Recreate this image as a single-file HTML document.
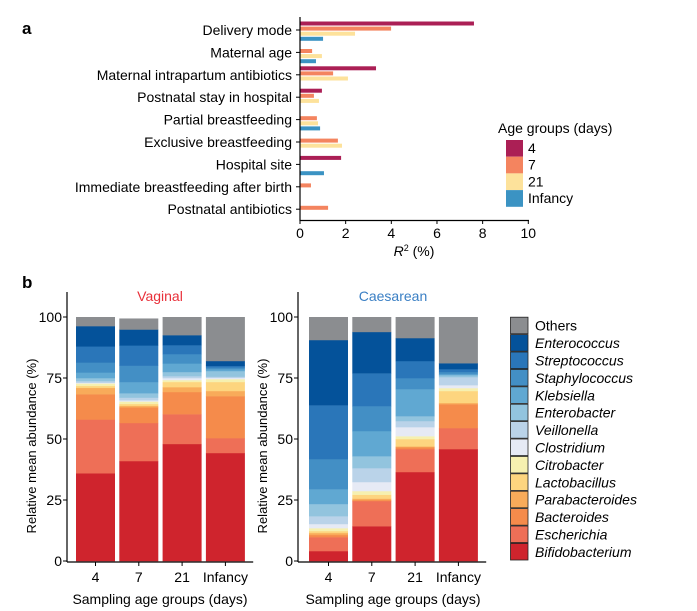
<!DOCTYPE html>
<html><head><meta charset="utf-8"><style>
html,body{margin:0;padding:0;background:#fff;}
svg{display:block;font-family:"Liberation Sans",Arial,sans-serif;}
</style></head><body>
<svg id="chart" width="697" height="611" viewBox="0 0 697 611" xmlns="http://www.w3.org/2000/svg">
<text x="22" y="34" font-size="17" font-weight="bold">a</text>
<text x="22" y="288" font-size="17" font-weight="bold">b</text>
<g id="pa"></g>
<g id="pb"></g>
</svg>
<script>
// ---- Panel a data ----
const factors = ["Delivery mode","Maternal age","Maternal intrapartum antibiotics","Postnatal stay in hospital","Partial breastfeeding","Exclusive breastfeeding","Hospital site","Immediate breastfeeding after birth","Postnatal antibiotics"];
const ageGroups = ["4","7","21","Infancy"];
const r2Day4 = [7.62,0,3.33,0.96,0,0,1.80,0,0];
const r2Day7 = [3.99,0.53,1.45,0.61,0.74,1.66,0,0.48,1.23];
const r2Day21 = [2.41,0.96,2.10,0.83,0.79,1.84,0,0,0];
const r2Infancy = [1.01,0.70,0,0,0.88,0,1.05,0,0];
const r2Ticks = [0,2,4,6,8,10];

// ---- Panel b data ----
const taxa = ["Bifidobacterium","Escherichia","Bacteroides","Parabacteroides","Lactobacillus","Citrobacter","Clostridium","Veillonella","Enterobacter","Klebsiella","Staphylococcus","Streptococcus","Enterococcus","Others"];
const sampleGroups = ["4","7","21","Infancy"];
const vag4 = [36,22,10.4,2.6,0.8,1,0.3,0.7,1.2,2.3,4.1,6.6,8.3,3.7];
const vag7 = [41,15.6,6.4,0.6,0.8,1,0.5,1.1,1.8,4.6,6.7,8.3,6.5,4.5];
const vag21 = [48,12.2,9.1,2,2.1,0.8,0.8,0.8,1.7,3.5,3.8,3.7,4.1,7.4];
const vagInf = [44.3,6.1,17.2,2.1,3.7,1.2,0.5,0.5,2.3,0.8,0.7,0.6,2,18];
const cae4 = [4.1,5.7,0.9,0.8,0.8,1.2,1.7,3.2,5,6.1,12.3,22.1,26.7,9.4];
const cae7 = [14.3,10.3,0.4,0.6,1.6,1.5,3.7,5.7,4.9,10.3,10.2,13.5,16.9,6.1];
const cae21 = [36.5,9.4,0.8,0.3,3,1.2,3.7,2.5,2,11.1,4.5,7,9.4,8.6];
const caeInf = [45.9,8.6,9.8,0.5,4.9,1.2,1.2,3.3,0.8,0.4,0.9,1.2,2.4,18.9];
const abundTicks = [0,25,50,75,100];

const NS="http://www.w3.org/2000/svg";
function mk(tag,attrs,parent,txt){const e=document.createElementNS(NS,tag);for(const k in attrs)e.setAttribute(k,attrs[k]);if(txt!==undefined)e.textContent=txt;parent.appendChild(e);return e;}

// ---- Panel a ----
(function(){
  const g=document.getElementById('pa');
  const x0=300,x1=528.3,xs=v=>x0+(x1-x0)*v/10;
  const yc=i=>31+i*22.4;
  const series=[r2Day4,r2Day7,r2Day21,r2Infancy];
  const cols=["#ab1f55","#f4845f","#fde29b","#3b93c3"];
  factors.forEach((f,i)=>{
    const t=mk('text',{x:292,y:yc(i)+4,'font-size':14,'text-anchor':'end'},g,f);
    
    
    mk('line',{x1:296,x2:300,y1:yc(i)-1,y2:yc(i)-1,stroke:'#000'},g);
    series.forEach((s,j)=>{
      if(s[i]<=0)return;
      const r=mk('rect',{x:x0,y:yc(i)-9.5+j*5.1,width:xs(s[i])-x0,height:4,fill:cols[j]},g);
      
      
    });
  });
  mk('line',{x1:300,x2:300,y1:17,y2:221,stroke:'#000','stroke-width':1.2},g);
  mk('line',{x1:299.5,x2:529,y1:220.5,y2:220.5,stroke:'#000','stroke-width':1.2},g);
  r2Ticks.forEach(v=>{
    mk('line',{x1:xs(v),x2:xs(v),y1:220,y2:224,stroke:'#000'},g);
    const t=mk('text',{x:xs(v),y:238,'font-size':14,'text-anchor':'middle'},g,v);
    
    
  });
  const xt=mk('text',{x:414,y:256,'font-size':14,'text-anchor':'middle'},g);
  
  
  mk('tspan',{'font-style':'italic'},xt,'R');
  mk('tspan',{dy:-5,'font-size':9},xt,'2');
  mk('tspan',{dy:5},xt,' (%)');
  const lt=mk('text',{x:498,y:133,'font-size':14},g,'Age groups (days)');
  
  
  ageGroups.forEach((a,j)=>{
    const y=140+j*16.7;
    const r=mk('rect',{x:506,y:y,width:17,height:16.7,fill:cols[j]},g);
    
    
    const t=mk('text',{x:528,y:y+13,'font-size':14},g,a);
    
    
  });
})();

// ---- Panel b ----
(function(){
  const g=document.getElementById('pb');
  const cols=["#cf242d","#ee6f57","#f58b4b","#f8ab5a","#fdd57f","#f6f0b0","#e6eaf5","#bad3e9","#92c4de","#60a8d2","#438fc5","#2a76b9","#04529a","#8b8d90"];
  const y0=561,y1=317,ys=v=>y0-(y0-y1)*v/100;
  function panel(ax,firstBar,data,title,tcol,name){
    const t=mk('text',{x:firstBar+84,y:301,'font-size':14,'text-anchor':'middle',fill:tcol},g,title);
    
    
    data.forEach((vals,b)=>{
      const bx=firstBar+b*43.3;
      let cum=0;
      vals.forEach((v,k)=>{
        const r=mk('rect',{x:bx,y:ys(cum+v),width:39,height:ys(cum)-ys(cum+v)+0.3,fill:cols[k]},g);
        
        
        cum+=v;
      });
      mk('line',{x1:bx+19.5,x2:bx+19.5,y1:562,y2:566,stroke:'#000'},g);
      const tl=mk('text',{x:bx+19.5,y:582,'font-size':14,'text-anchor':'middle'},g,sampleGroups[b]);
      
      
    });
    mk('line',{x1:ax,x2:ax,y1:292,y2:562,stroke:'#000','stroke-width':1.2},g);
    mk('line',{x1:ax,x2:firstBar+4*43.3+4,y1:562,y2:562,stroke:'#000','stroke-width':1.2},g);
    abundTicks.forEach(v=>{
      mk('line',{x1:ax-4,x2:ax,y1:ys(v),y2:ys(v),stroke:'#000'},g);
      const tl=mk('text',{x:ax-5,y:ys(v)+5,'font-size':14,'text-anchor':'end'},g,v);
      
      
    });
    const yt=mk('text',{x:0,y:0,'font-size':13,'text-anchor':'middle',transform:'translate('+(ax-31)+',446) rotate(-90)'},g,'Relative mean abundance (%)');
    
    
    const xt=mk('text',{x:firstBar+84,y:604,'font-size':14,'text-anchor':'middle'},g,'Sampling age groups (days)');
    
    
  }
  panel(67,76,[vag4,vag7,vag21,vagInf],'Vaginal','#e8303a','vaginal');
  panel(298,309,[cae4,cae7,cae21,caeInf],'Caesarean','#3a7fc4','caesarean');
  for(let k=taxa.length-1;k>=0;k--){
    const idx=taxa.length-1-k;
    const y=316.7+idx*17.4;
    const r=mk('rect',{x:510.5,y:y+0.5,width:17.5,height:16.6,fill:cols[k],stroke:'#222','stroke-width':0.8},g);
    
    
    const t=mk('text',{x:535,y:y+14,'font-size':14,'font-style':k===13?'normal':'italic'},g,taxa[k]);
    
    
  }
})();
</script>
</body></html>
